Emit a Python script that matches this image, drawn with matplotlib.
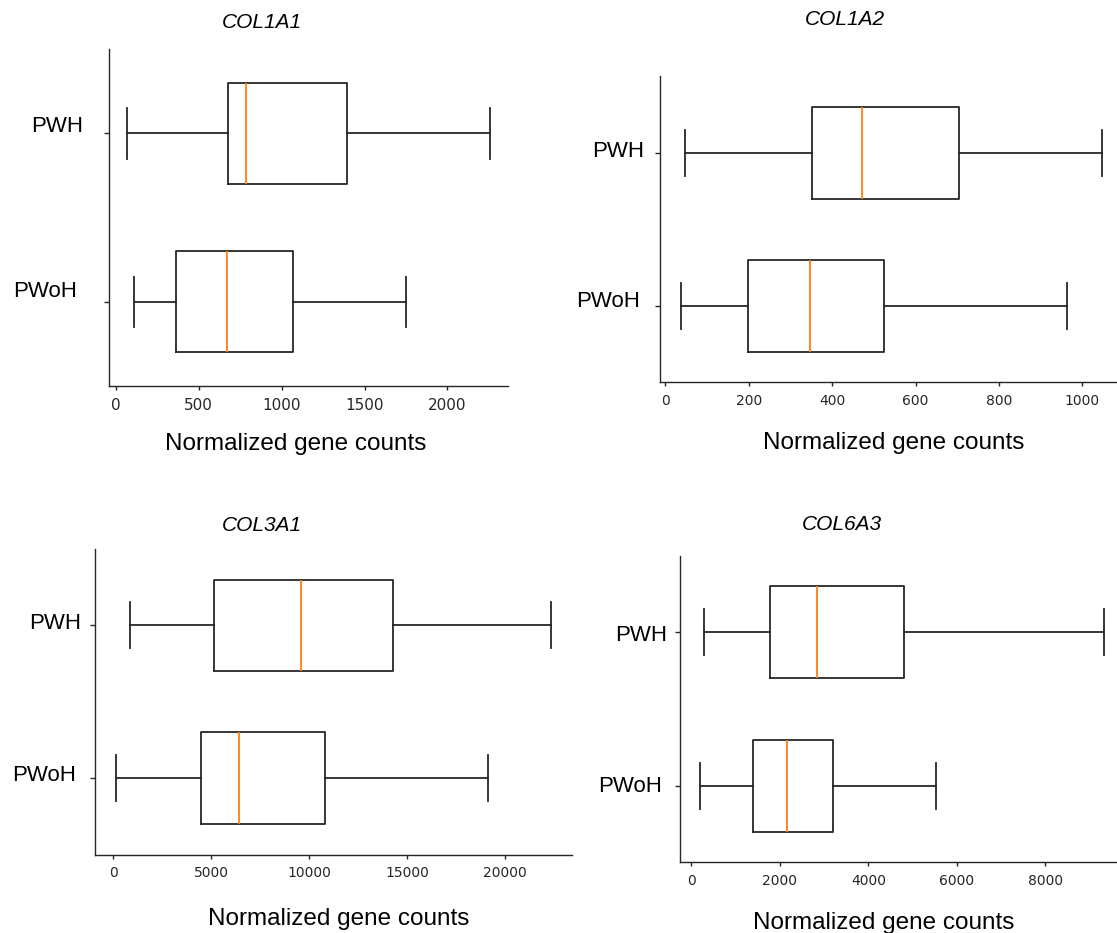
import matplotlib
matplotlib.use('Agg')
import matplotlib.pyplot as plt
import matplotlib.transforms as mtransforms

# summary stats: [whislo, q1, median, q3, whishi]
genes = ['COL1A1', 'COL1A2', 'COL3A1', 'COL6A3']
groups = ['PWoH', 'PWH']   # bottom to top

col1a1_pwoh = [114, 363, 669, 1070, 1749]
col1a1_pwh = [70, 676, 785, 1395, 2257]
col1a2_pwoh = [38, 198, 346, 524, 962]
col1a2_pwh = [46, 351, 471, 703, 1047]
col3a1_pwoh = [169, 4472, 6402, 10788, 19106]
col3a1_pwh = [864, 5148, 9604, 14278, 22322]
col6a3_pwoh = [190, 1394, 2162, 3209, 5530]
col6a3_pwh = [280, 1763, 2847, 4800, 9320]

xlabel = 'Normalized gene counts'

W, H, DPI = 1117, 933, 100
DARK = '#262626'
ORANGE = '#ff7f0e'
SANS = 'Liberation Sans'

# layout per panel, in pixels of the output image
# axes box (left, top, right, bottom), title centre, xlabel centre,
# tick font size, ytick label shifts (dx, dy) for [PWoH, PWH]
panels = [
    dict(data=(col1a1_pwoh, col1a1_pwh), box=(109, 49.3, 508.3, 386),
         title=(261.7, 20.7), xlab=(295.5, 441.7), tsize=11,
         shift=[(-27.6, 13), (-21, 9)]),
    dict(data=(col1a2_pwoh, col1a2_pwh), box=(660.3, 76, 1123, 382.3),
         title=(845, 17.7), xlab=(894, 440.7), tsize=10,
         shift=[(-15.6, 7), (-11.3, 4)]),
    dict(data=(col3a1_pwoh, col3a1_pwh), box=(94.7, 549, 572.3, 854.7),
         title=(261.7, 523.5), xlab=(339, 916.7), tsize=10,
         shift=[(-14, 5.7), (-9, 4.3)]),
    dict(data=(col6a3_pwoh, col6a3_pwh), box=(679.7, 555.7, 1124.1, 862.3),
         title=(841.5, 522.6), xlab=(883.8, 920), tsize=10,
         shift=[(-13, 1.9), (-7.7, -0.5)]),
]


def px_rect(l, t, r, b):
    return [l / W, 1 - b / H, (r - l) / W, (b - t) / H]


fig = plt.figure(figsize=(W / DPI, H / DPI), dpi=DPI)
fig.patch.set_facecolor('white')

for gene, p in zip(genes, panels):
    ax = fig.add_axes(px_rect(*p['box']))
    stats = []
    for g, s in zip(groups, p['data']):
        stats.append(dict(label=g, whislo=s[0], q1=s[1], med=s[2],
                          q3=s[3], whishi=s[4], fliers=[]))
    line = dict(color=DARK, linewidth=1.3)
    ax.bxp(stats, positions=[1, 2], widths=0.6, orientation='horizontal',
           showfliers=False, boxprops=line, whiskerprops=line,
           capprops=line, medianprops=dict(color=ORANGE, linewidth=1.3))
    ax.set_ylim(0.5, 2.5)

    for side in ['top', 'right']:
        ax.spines[side].set_visible(False)
    for side in ['left', 'bottom']:
        ax.spines[side].set_color(DARK)
        ax.spines[side].set_linewidth(1.0)

    ax.tick_params(axis='x', length=3, width=1, color=DARK, pad=5.3,
                   labelsize=p['tsize'], labelcolor=DARK)
    ax.tick_params(axis='y', length=3.4, width=1, color=DARK, pad=0,
                   labelsize=16, labelcolor='black')

    for lbl, (dx, dy) in zip(ax.get_yticklabels(), p['shift']):
        lbl.set_fontfamily(SANS)
        lbl.set_transform(lbl.get_transform() + mtransforms.ScaledTranslation(
            dx / DPI, dy / DPI, fig.dpi_scale_trans))

    # title and x label sit at their own spots in the source figure
    tx, ty = p['title']
    fig.text(tx / W, 1 - (ty + 7.45) / H, gene, ha='center', va='baseline',
             fontsize=15, style='italic', family=SANS)

    lab = ax.set_xlabel(xlabel, fontsize=17.5, family=SANS)
    lx, ly = p['xlab']
    ax.xaxis.set_label_coords(lx / W, 1 - (ly + 8.7) / H, transform=fig.transFigure)
    lab.set_va('baseline')

fig.savefig('out.png', dpi=DPI)
